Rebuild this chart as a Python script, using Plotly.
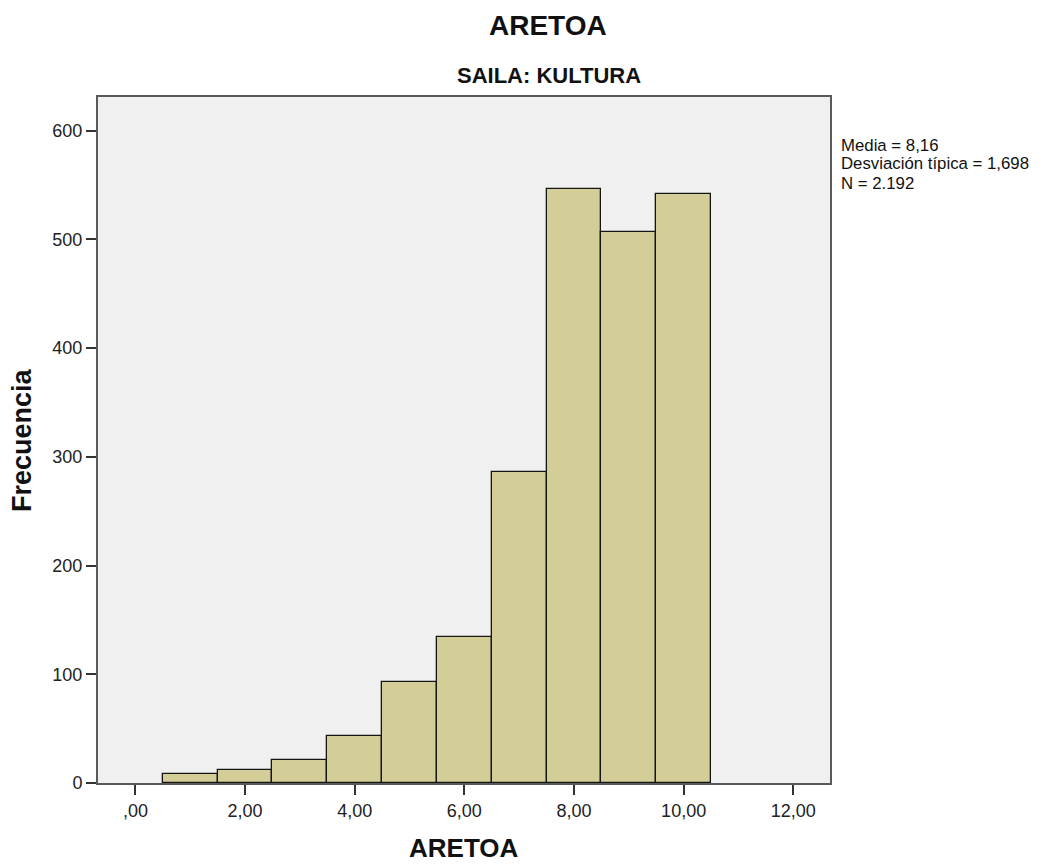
import plotly.graph_objects as go

bin_centers = [1, 2, 3, 4, 5, 6, 7, 8, 9, 10]
frequencies = [8, 12, 21, 43, 93, 134, 286, 546, 507, 542]
x_tick_vals = [0, 2, 4, 6, 8, 10, 12]
x_tick_text = [",00", "2,00", "4,00", "6,00", "8,00", "10,00", "12,00"]
y_tick_vals = [0, 100, 200, 300, 400, 500, 600]
stats_lines = ["Media = 8,16", "Desviación típica = 1,698", "N = 2.192"]

FONT = "Liberation Sans, Arial, sans-serif"

# page has an 8px body margin; figure coords = page coords - 8
W, H = 1050, 857
L, R, T, B = 90, 228, 89, 82
PW = W - L - R   # 732
PH = H - T - B   # 686

fig = go.Figure()
fig.add_trace(go.Bar(
    x=bin_centers, y=frequencies, width=1,
    marker=dict(color="#d3ce98", line=dict(color="#151515", width=1.3)),
    showlegend=False,
))

fig.update_layout(
    width=W, height=H,
    margin=dict(l=L, r=R, t=T, b=B, pad=0),
    paper_bgcolor="white", plot_bgcolor="#f0f0f0",
    font=dict(family=FONT, color="#222222", size=18),
    bargap=0,
)

fig.update_xaxes(
    range=[-0.683, 12.67], tickvals=x_tick_vals, ticktext=x_tick_text,
    ticks="outside", ticklen=10, tickwidth=2, tickcolor="#333333",
    showline=True, linecolor="#5a5a5a", linewidth=2, mirror=True,
    showgrid=False, zeroline=False,
    tickfont=dict(size=18, color="#222222"),
)
fig.update_yaxes(
    range=[0, 631], tickvals=y_tick_vals,
    ticks="outside", ticklen=10, tickwidth=2, tickcolor="#333333",
    showline=True, linecolor="#5a5a5a", linewidth=2, mirror=True,
    showgrid=False, zeroline=False,
    tickfont=dict(size=18, color="#222222"),
)

def py(fig_y):
    return (H - B - fig_y) / PH

def px(fig_x):
    return (fig_x - L) / PW

# main title
fig.add_annotation(text="<b>ARETOA</b>", xref="paper", yref="paper",
                   x=px(539.5), y=py(17.5), xanchor="center", yanchor="middle",
                   showarrow=False, font=dict(size=28, color="#111111"))
# subtitle
fig.add_annotation(text="<b>SAILA: KULTURA</b>", xref="paper", yref="paper",
                   x=px(540.5), y=py(67), xanchor="center", yanchor="middle",
                   showarrow=False, font=dict(size=22, color="#111111"))
# x axis title
fig.add_annotation(text="<b>ARETOA</b>", xref="paper", yref="paper",
                   x=0.5, y=py(840), xanchor="center", yanchor="middle",
                   showarrow=False, font=dict(size=26, color="#111111"))
# y axis title
fig.add_annotation(text="<b>Frecuencia</b>", xref="paper", yref="paper",
                   x=px(14), y=0.5, xanchor="center", yanchor="middle", textangle=-90,
                   showarrow=False, font=dict(size=27, color="#111111"))
# stats lines
for i, line in enumerate(stats_lines):
    fig.add_annotation(text=line, xref="paper", yref="paper",
                       x=px(832), y=py(137 + 19 * i), xanchor="left", yanchor="middle",
                       showarrow=False, align="left", borderpad=0,
                       font=dict(size=16.8, color="#111111"))

fig.write_html("out.html")
